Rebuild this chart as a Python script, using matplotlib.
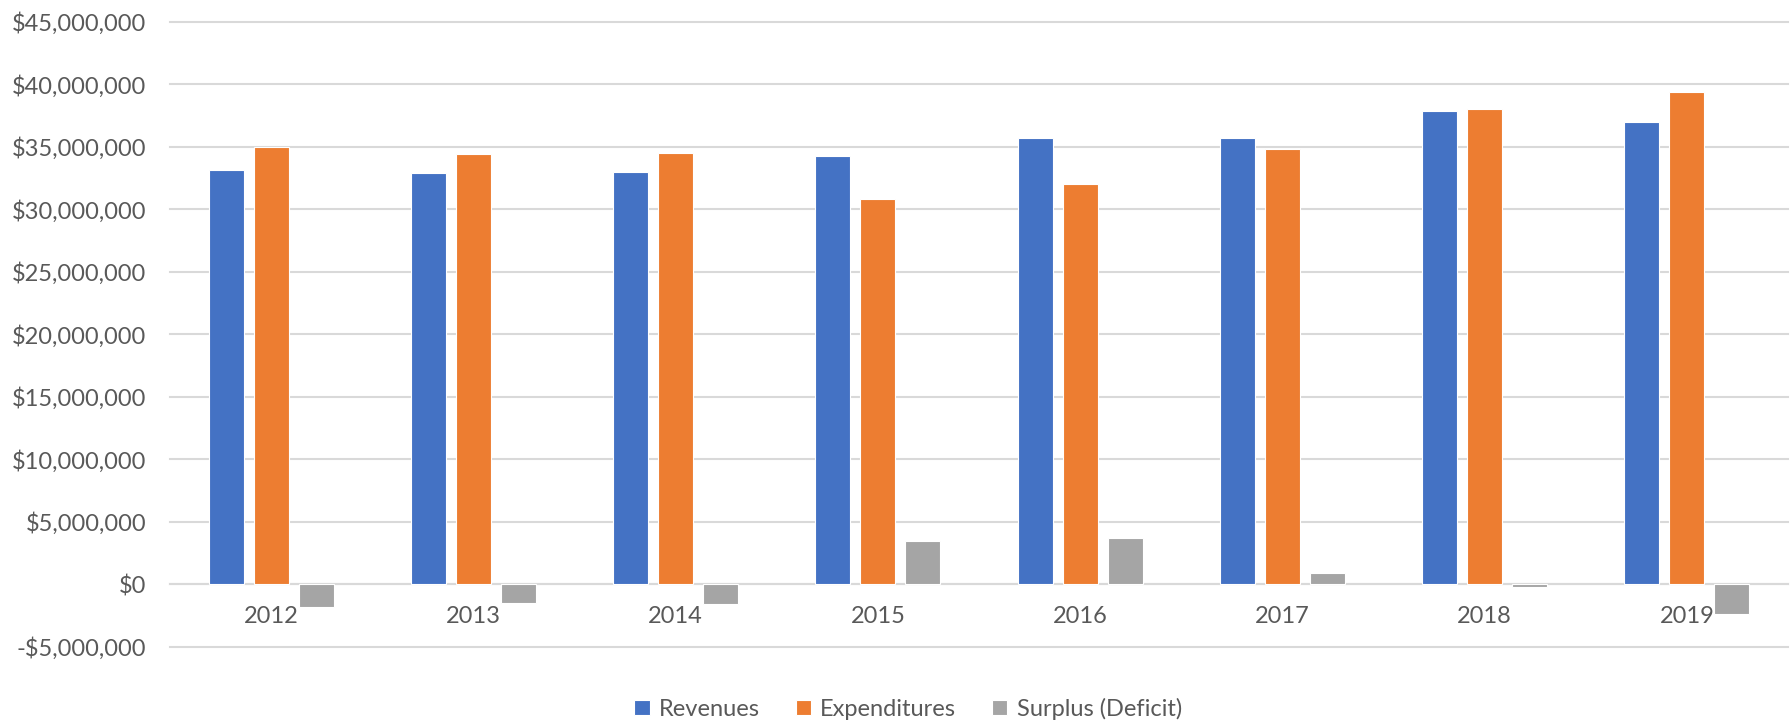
import matplotlib
matplotlib.use("Agg")
import matplotlib.pyplot as plt
import numpy as np
from matplotlib.ticker import FuncFormatter, MultipleLocator

plt.rcParams["font.family"] = ["Lato", "DejaVu Sans"]

# Annual budget figures (dollars)
years = ["2012", "2013", "2014", "2015", "2016", "2017", "2018", "2019"]
revenues = [33120000, 32920000, 32940000, 34270000, 35730000, 35700000, 37850000, 36940000]
expenditures = [34980000, 34400000, 34520000, 30830000, 32000000, 34820000, 38040000, 39350000]
surplus = [-1860000, -1480000, -1560000, 3430000, 3720000, 880000, -190000, -2410000]

BLUE = "#4472C4"
ORANGE = "#ED7D31"
GRAY = "#A5A5A5"
TEXT = "#595959"
GRID = "#D9D9D9"
FS = 17

W, H = 1791, 724
fig = plt.figure(figsize=(W / 100, H / 100), dpi=100)
ax = fig.add_axes([170 / W, 1 - 646.7 / H, (1788 - 170) / W, (646.7 - 21.7) / H])

x = np.arange(len(years))
width = 0.174
step = 0.2225
bar_kw = dict(edgecolor="white", linewidth=0.8, zorder=3)
ax.bar(x - step, revenues, width, color=BLUE, label="Revenues", **bar_kw)
ax.bar(x, expenditures, width, color=ORANGE, label="Expenditures", **bar_kw)
ax.bar(x + step, surplus, width, color=GRAY, label="Surplus (Deficit)", **bar_kw)

ax.set_xlim(-0.5, len(years) - 0.5)
ax.set_ylim(-5e6, 45e6)
ax.set_xticks(x)
ax.set_xticklabels(years)
ax.yaxis.set_major_locator(MultipleLocator(5e6))


def money(v, pos):
    v = int(round(v))
    return f"-${abs(v):,}" if v < 0 else f"${v:,}"


ax.yaxis.set_major_formatter(FuncFormatter(money))

ax.grid(axis="y", color=GRID, linewidth=1.5, zorder=0)
ax.set_axisbelow(True)
for t in ax.yaxis.get_major_ticks():
    t.gridline.set_clip_on(False)

for side in ["top", "right", "left"]:
    ax.spines[side].set_visible(False)
ax.spines["bottom"].set_position(("data", 0))
ax.spines["bottom"].set_color(GRID)
ax.spines["bottom"].set_linewidth(1.5)
ax.spines["bottom"].set_zorder(2)

ax.tick_params(axis="both", length=0, labelsize=FS, colors=TEXT)
ax.tick_params(axis="y", pad=17)
ax.tick_params(axis="x", pad=15.5)

fig.legend(loc="center", bbox_to_anchor=(0.507, 0.021), ncol=3, frameon=False,
           handlelength=0.65, handleheight=0.65, handletextpad=0.4,
           columnspacing=1.5, fontsize=FS, labelcolor=TEXT)

fig.savefig("out.png", dpi=100, facecolor="white")
